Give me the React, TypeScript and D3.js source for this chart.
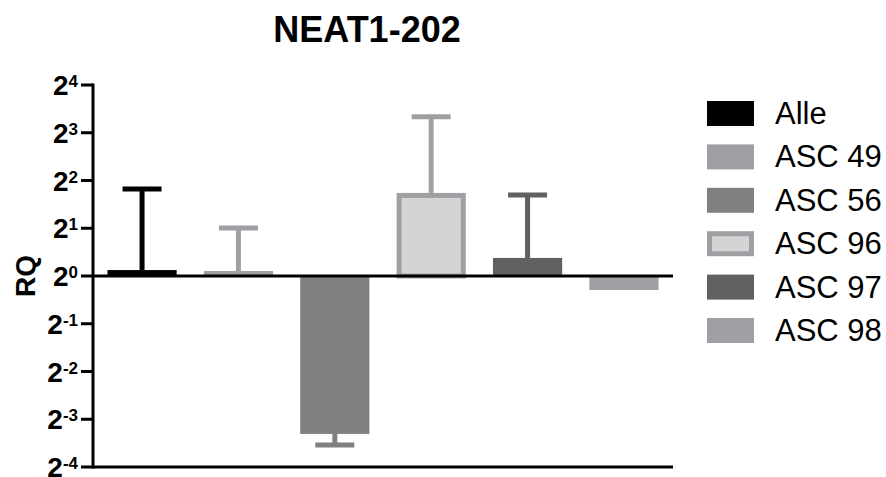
import React from "react";
import * as d3 from "d3";

const categories = ["Alle", "ASC 49", "ASC 56", "ASC 96", "ASC 97", "ASC 98"];
const rqValues = [1.09, 1.075, 0.101, 3.34, 1.3, 0.816];
const errorEnds = [3.53, 2.01, 0.086, 10.1, 3.24, 0.816];
const fills = ["#000000", "#A0A0A4", "#808080", "#D4D4D4", "#606060", "#A0A0A4"];
const strokes = ["#000000", "#A0A0A4", "#808080", "#A0A0A4", "#606060", "#A0A0A4"];
const tickExponents = [4, 3, 2, 1, 0, -1, -2, -3, -4];
const title = "NEAT1-202";
const yLabel = "RQ";

const W = 886;
const H = 477;
const x0 = 93;
const x1 = 673;
const yTop = 85;
const yBot = 467;
const FONT = "'Liberation Sans', Arial, Helvetica, sans-serif";

export default function App() {
  const x = d3.scaleBand().domain(categories).range([x0, x1]).paddingInner(0.282).paddingOuter(0.15);
  const y = d3.scaleLog().base(2).domain([Math.pow(2, -4), Math.pow(2, 4)]).range([yBot, yTop]);
  const y1 = y(1);
  const bw = x.bandwidth();
  const capHalf = 19.5;

  return (
    <svg width={W} height={H} style={{ position: "absolute", left: 0, top: 0, background: "#fff" }} fontFamily={FONT}>
      <text x={367} y={42} textAnchor="middle" fontSize={36} fontWeight="bold">{title}</text>

      {/* error bars */}
      {categories.map((c, i) => {
        const cx = (x(c) as number) + bw / 2;
        const yv = y(rqValues[i]);
        const ye = y(errorEnds[i]);
        if (Math.abs(ye - yv) < 1) return null;
        return (
          <g key={"e" + c} stroke={strokes[i]} strokeWidth={5}>
            <line x1={cx} x2={cx} y1={yv} y2={ye} />
            <line x1={cx - capHalf} x2={cx + capHalf} y1={ye} y2={ye} />
          </g>
        );
      })}

      {/* bars */}
      {categories.map((c, i) => {
        const v = y(rqValues[i]);
        const outlined = fills[i] !== strokes[i];
        const sw = outlined ? 5 : 0;
        const top = Math.min(v, y1);
        const h = Math.abs(v - y1);
        return (
          <rect key={"b" + c} x={(x(c) as number) + sw / 2} y={top + sw / 2} width={bw - sw} height={Math.max(0, h - sw / 2)}
            fill={fills[i]} stroke={outlined ? strokes[i] : "none"} strokeWidth={sw} />
        );
      })}

      {/* zero line */}
      <line x1={x0} x2={x1} y1={y1} y2={y1} stroke="#000" strokeWidth={3} />
      {/* bottom axis */}
      <line x1={x0} x2={x1} y1={yBot} y2={yBot} stroke="#000" strokeWidth={3} />
      {/* y axis */}
      <line x1={x0} x2={x0} y1={yTop - 1.5} y2={yBot + 1.5} stroke="#000" strokeWidth={3} />
      {tickExponents.map((e) => {
        const ty = y(Math.pow(2, e));
        return (
          <g key={"t" + e}>
            <line x1={x0 - 12} x2={x0} y1={ty} y2={ty} stroke="#000" strokeWidth={3} />
            <text x={78} y={ty + 10} textAnchor="end" fontWeight="bold" fontSize={28}>
              2<tspan fontSize={17} dy={-8}>{e}</tspan>
            </text>
          </g>
        );
      })}
      <text transform={`translate(35, 276) rotate(-90)`} textAnchor="middle" fontSize={28} fontWeight="bold">{yLabel}</text>

      {/* legend */}
      {categories.map((c, i) => {
        const cy = 113.5 + i * 43.4;
        const outlined = fills[i] !== strokes[i];
        return (
          <g key={"l" + c}>
            <rect x={707 + (outlined ? 2.5 : 0)} y={cy - 12.5 + (outlined ? 2.5 : 0)} width={47 - (outlined ? 5 : 0)} height={25 - (outlined ? 5 : 0)}
              fill={fills[i]} stroke={outlined ? strokes[i] : "none"} strokeWidth={outlined ? 5 : 0} />
            <text x={775} y={cy + 10.5} fontSize={31}>{c}</text>
          </g>
        );
      })}
    </svg>
  );
}
